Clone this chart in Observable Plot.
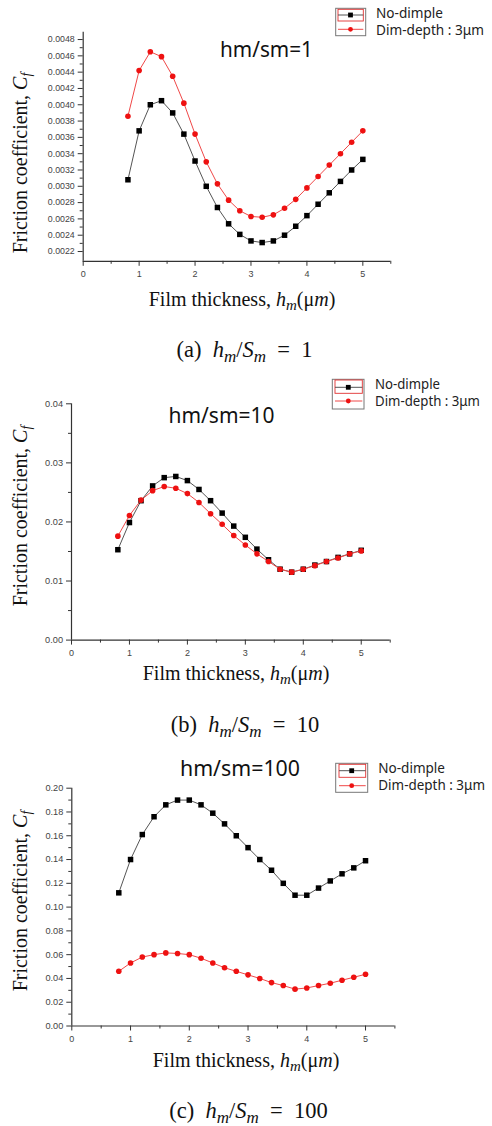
<!DOCTYPE html>
<html><head><meta charset="utf-8">
<script src="https://cdn.jsdelivr.net/npm/d3@7"></script>
<script src="https://cdn.jsdelivr.net/npm/@observablehq/plot@0.6"></script>
<style>
body{margin:0;background:#fff;}
#root{position:relative;width:492px;height:1126px;overflow:hidden;background:#fff;}
.panel{position:absolute;left:0;}
#ann{position:absolute;left:0;top:0;}
</style></head><body><div id="root"></div>
<script>
// ---- data ----
const thickness = [0.8,1.0,1.2,1.4,1.6,1.8,2.0,2.2,2.4,2.6,2.8,3.0,3.2,3.4,3.6,3.8,4.0,4.2,4.4,4.6,4.8,5.0];
const seriesNames = ["No-dimple", "Dim-depth : 3μm"];

const noDimpleA = [0.00308,0.00368,0.00400,0.00405,0.00390,0.00364,0.00331,0.00300,0.00274,0.00254,0.00241,0.00233,0.00231,0.00233,0.00240,0.00251,0.00264,0.00278,0.00292,0.00306,0.00320,0.00333];
const dimDepthA = [0.00386,0.00442,0.00465,0.00459,0.00435,0.00402,0.00364,0.00330,0.00303,0.00283,0.00270,0.00263,0.00262,0.00265,0.00273,0.00284,0.00298,0.00312,0.00326,0.00340,0.00354,0.00368];

const noDimpleB = [0.0153,0.0199,0.0236,0.0261,0.0275,0.0277,0.0270,0.0255,0.0236,0.0215,0.0193,0.0174,0.0154,0.0136,0.0120,0.0115,0.0120,0.0127,0.0133,0.0140,0.0146,0.0152];
const dimDepthB = [0.0176,0.0211,0.0237,0.0253,0.0260,0.0257,0.0248,0.0233,0.0214,0.0196,0.0177,0.0161,0.0146,0.0133,0.0120,0.0115,0.0120,0.0126,0.0133,0.0139,0.0146,0.0151];

const noDimpleC = [0.112,0.140,0.161,0.176,0.186,0.190,0.190,0.186,0.179,0.170,0.160,0.150,0.140,0.131,0.120,0.110,0.110,0.116,0.122,0.128,0.133,0.139];
const dimDepthC = [0.046,0.053,0.058,0.060,0.0615,0.061,0.060,0.057,0.053,0.049,0.046,0.043,0.040,0.0365,0.034,0.031,0.032,0.034,0.036,0.0385,0.041,0.0435];

const xTicks = [0,1,2,3,4,5];
const xMinorTicks = [0.5,1.5,2.5,3.5,4.5,5.5];
const yTicksA = [0.0022,0.0024,0.0026,0.0028,0.0030,0.0032,0.0034,0.0036,0.0038,0.0040,0.0042,0.0044,0.0046,0.0048];
const yMinorA = [0.0023,0.0025,0.0027,0.0029,0.0031,0.0033,0.0035,0.0037,0.0039,0.0041,0.0043,0.0045,0.0047];
const yTicksB = [0.00,0.01,0.02,0.03,0.04];
const yMinorB = [0.005,0.015,0.025,0.035];
const yTicksC = [0.00,0.02,0.04,0.06,0.08,0.10,0.12,0.14,0.16,0.18,0.20];
const yMinorC = [0.01,0.03,0.05,0.07,0.09,0.11,0.13,0.15,0.17,0.19];

const panelTitles = ["hm/sm=1", "hm/sm=10", "hm/sm=100"];
const captionLetters = ["(a)", "(b)", "(c)"];
const captionRatios = ["1", "10", "100"];

// ---- layout ----
const root = document.getElementById("root");
const BLACK_LINE = "#555", BLACK = "#000", RED_LINE = "#f04848", RED = "#ee1111";

function drawPanel(p) {
  const rows = (vals, s) => thickness.map((x, i) => ({x, y: vals[i], s}));
  const nd = rows(p.noDimple, seriesNames[0]);
  const dd = rows(p.dimDepth, seriesNames[1]);
  const chart = Plot.plot({
    width: 492, height: p.height,
    marginTop: p.mt, marginBottom: p.height - p.bottom, marginLeft: p.ml, marginRight: 492 - p.xr,
    x: {domain: [0, 5.5]},
    y: {domain: p.yDomain},
    style: {background: "transparent", color: "#333", fontFamily: "'Liberation Sans', Arial, sans-serif", fontSize: "9px", overflow: "visible"},
    marks: [
      Plot.axisX({ticks: xTicks, tickSize: 5, tickPadding: p.xpad, tickFormat: d3.format("d"), label: null, fontSize: 9, fill: "#444"}),
      Plot.axisX({ticks: xMinorTicks, tickSize: 3, tickFormat: () => "", label: null}),
      Plot.axisY({ticks: p.yTicks, tickSize: 5, tickPadding: 3.5, tickFormat: d3.format(p.fmt), label: null, fontSize: p.fs, fill: "#444"}),
      Plot.axisY({ticks: p.yMinor, tickSize: 3, tickFormat: () => "", label: null}),
      Plot.ruleX([0], {stroke: "#333", strokeWidth: 1.2}),
      Plot.ruleY([p.yDomain[0]], {stroke: "#333", strokeWidth: 1.2}),
      Plot.line(nd, {x: "x", y: "y", stroke: BLACK_LINE, strokeWidth: 1}),
      Plot.dot(nd, {x: "x", y: "y", symbol: "square", r: 3.1, fill: BLACK}),
      Plot.line(dd, {x: "x", y: "y", stroke: RED_LINE, strokeWidth: 1}),
      Plot.dot(dd, {x: "x", y: "y", symbol: "circle", r: 2.8, fill: RED})
    ]
  });
  const div = document.createElement("div");
  div.className = "panel";
  div.style.top = p.top + "px";
  div.appendChild(chart);
  root.appendChild(div);
}

drawPanel({top: 0, height: 280, mt: 31.7, bottom: 260.8, ml: 82.7, xr: 390.3,
  yDomain: [0.00208, 0.00489], yTicks: yTicksA, yMinor: yMinorA, fmt: ".4f", fs: 8.8, xpad: 4,
  noDimple: noDimpleA, dimDepth: dimDepthA});
drawPanel({top: 370, height: 290, mt: 33.3, bottom: 639.6 - 370, ml: 71, xr: 389.7,
  yDomain: [0, 0.04], yTicks: yTicksB, yMinor: yMinorB, fmt: ".2f", fs: 9.2, xpad: 5,
  noDimple: noDimpleB, dimDepth: dimDepthB});
drawPanel({top: 750, height: 295, mt: 37.7, bottom: 1025.5 - 750, ml: 71.3, xr: 394.4,
  yDomain: [0, 0.20], yTicks: yTicksC, yMinor: yMinorC, fmt: ".2f", fs: 9.2, xpad: 5,
  noDimple: noDimpleC, dimDepth: dimDepthC});

// ---- annotations ----
const SERIF = "'Liberation Serif','Times New Roman',serif";
const SANS = "'Noto Sans',sans-serif";
const ann = [];
const yLab = [{x: 27, y: 163}, {x: 27, y: 516}, {x: 27, y: 901}];
const xLab = [{x: 242, y: 306}, {x: 236, y: 680}, {x: 246, y: 1067}];
const caps = [{x: 244.5, y: 356.5}, {x: 245, y: 731.7}, {x: 248.5, y: 1118.3}];
const titles = [{x: 266.5, y: 57, w: 93}, {x: 221.5, y: 422.5, w: 106}, {x: 240, y: 776, w: 120}];
const legends = [
  {fx: 335.7, fy: 8.3, fw: 30, fh: 27.4, rx: 338, ry: 9.3, rw: 25.3, rh: 11.7, l1: 15, l2: 29.3, cx: 350.5, tx: 376, t1: 18.3, t2: 35, w1: 67, w2: 108},
  {fx: 332.3, fy: 379.3, fw: 31.7, fh: 29.7, rx: 335, ry: 380, rw: 27.3, rh: 13.3, l1: 387.3, l2: 401, cx: 348.3, tx: 375, t1: 389.3, t2: 406, w1: 65, w2: 105},
  {fx: 335.7, fy: 763.3, fw: 32, fh: 29, rx: 339, ry: 764.3, rw: 26.7, rh: 13, l1: 770.7, l2: 785.7, cx: 351.7, tx: 378.3, t1: 773.3, t2: 790, w1: 66.7, w2: 106.7}
];
for (let i = 0; i < 3; i++) {
  ann.push(`<text transform="translate(${yLab[i].x},${yLab[i].y}) rotate(-90)" text-anchor="middle" font-family="${SERIF}" font-size="20" fill="#111">Friction coefficient, <tspan font-style="italic">C</tspan><tspan font-style="italic" font-size="14" dy="4">f</tspan></text>`);
  ann.push(`<text x="${xLab[i].x}" y="${xLab[i].y}" text-anchor="middle" font-family="${SERIF}" font-size="20" fill="#111">Film thickness, <tspan font-style="italic">h</tspan><tspan font-style="italic" font-size="15" dy="4">m</tspan><tspan dy="-4">(μ</tspan><tspan font-style="italic">m</tspan>)</text>`);
  ann.push(`<text x="${caps[i].x}" y="${caps[i].y}" text-anchor="middle" font-family="${SERIF}" font-size="22.5" fill="#111" style="white-space:pre">${captionLetters[i]}  <tspan font-style="italic">h</tspan><tspan font-style="italic" font-size="17" dy="5">m</tspan><tspan dy="-5">/</tspan><tspan font-style="italic">S</tspan><tspan font-style="italic" font-size="17" dy="5">m</tspan><tspan dy="-5">  =  ${captionRatios[i]}</tspan></text>`);
  ann.push(`<text x="${titles[i].x}" y="${titles[i].y}" text-anchor="middle" font-family="${SANS}" font-size="22" fill="#111" textLength="${titles[i].w}" lengthAdjust="spacingAndGlyphs">${panelTitles[i]}</text>`);
  const L = legends[i];
  ann.push(`<rect x="${L.fx}" y="${L.fy}" width="${L.fw}" height="${L.fh}" fill="none" stroke="#777" stroke-width="1"/>`);
  ann.push(`<rect x="${L.rx}" y="${L.ry}" width="${L.rw}" height="${L.rh}" fill="none" stroke="#e03030" stroke-width="0.9"/>`);
  ann.push(`<line x1="${L.rx}" x2="${L.rx + L.rw}" y1="${L.l1}" y2="${L.l1}" stroke="${BLACK_LINE}" stroke-width="1"/>`);
  ann.push(`<rect x="${L.cx - 2.4}" y="${L.l1 - 2.4}" width="4.8" height="4.8" fill="${BLACK}"/>`);
  ann.push(`<line x1="${L.rx}" x2="${L.rx + L.rw}" y1="${L.l2}" y2="${L.l2}" stroke="${RED_LINE}" stroke-width="1"/>`);
  ann.push(`<circle cx="${L.cx}" cy="${L.l2}" r="2.4" fill="${RED}"/>`);
  ann.push(`<text x="${L.tx}" y="${L.t1}" font-family="${SANS}" font-size="13.5" fill="#222" textLength="${L.w1}" lengthAdjust="spacingAndGlyphs">${seriesNames[0]}</text>`);
  ann.push(`<text x="${L.tx}" y="${L.t2}" font-family="${SANS}" font-size="13.5" fill="#222" textLength="${L.w2}" lengthAdjust="spacingAndGlyphs">${seriesNames[1]}</text>`);
}
const svgNS = "http://www.w3.org/2000/svg";
const annDiv = document.createElement("div");
annDiv.id = "ann";
annDiv.innerHTML = `<svg xmlns="${svgNS}" width="492" height="1126" viewBox="0 0 492 1126">${ann.join("")}</svg>`;
root.appendChild(annDiv);
</script>
</body></html>
